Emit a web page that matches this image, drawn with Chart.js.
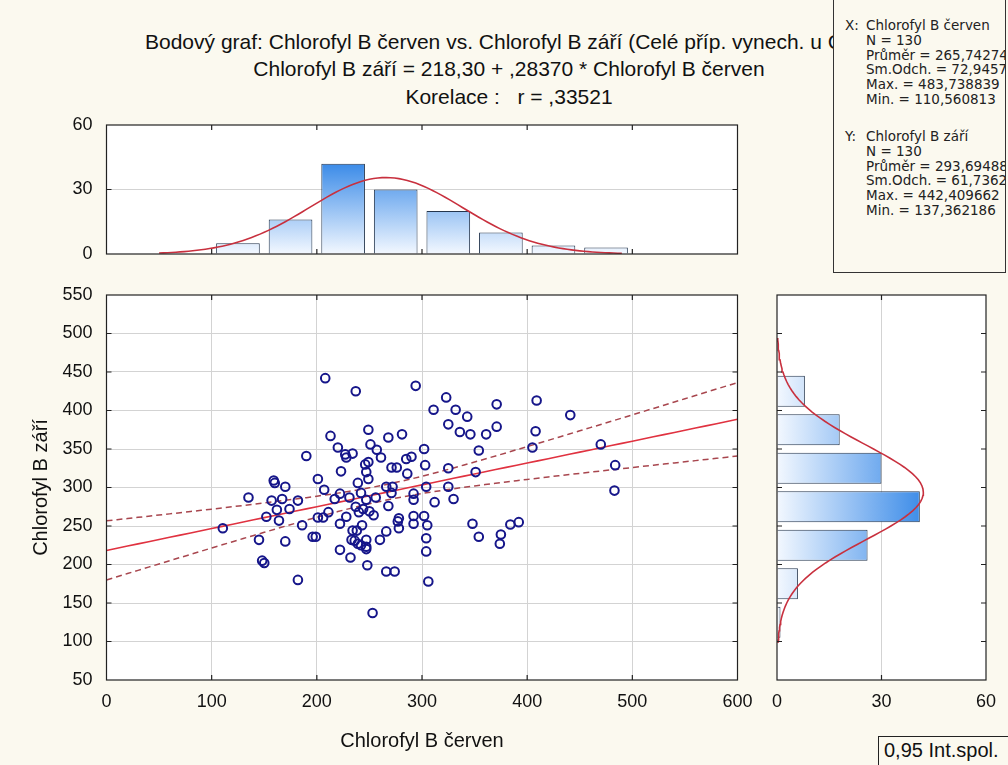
<!DOCTYPE html>
<html>
<head>
<meta charset="utf-8">
<script src="https://cdn.jsdelivr.net/npm/chart.js@4.4.1/dist/chart.umd.min.js"></script>
<style>
  html, body { margin: 0; padding: 0; }
  body { width: 1008px; height: 765px; position: relative; overflow: hidden; background: #fbf9ef;
         font-family: "Liberation Sans", Arial, sans-serif; color: #111; }
  .wrap { position: absolute; }
  .tline { position: absolute; font-size: 21px; line-height: 26px; white-space: nowrap; }
  .center { left: 0; width: 1018px; text-align: center; }
  #stats { position: absolute; left: 833px; top: -1px; width: 171px; height: 272px; border: 1px solid #333;
           background: #fbf9ef; font-family: "DejaVu Sans", sans-serif; font-size: 13.5px; line-height: 14px;
           color: #222; overflow: hidden; z-index: 5; }
  #stats div { position: absolute; white-space: nowrap; }
  #ci { position: absolute; left: 878px; top: 736px; width: 140px; height: 32px; border: 1px solid #222;
        font-size: 20px; line-height: 27px; padding-left: 5px; box-sizing: border-box; background: #fbf9ef; }
</style>
</head>
<body>
<div class="tline" style="left:145px; top:29px;">Bodový graf: Chlorofyl B červen vs. Chlorofyl B září (Celé příp. vynech. u ChD)</div>
<div class="tline center" style="top:56px;">Chlorofyl B září = 218,30 + ,28370 * Chlorofyl B červen</div>
<div class="tline center" style="top:84px;">Korelace :&nbsp;&nbsp; r = ,33521</div>

<div id="stats"></div>

<div class="wrap" style="left:0; top:105px; width:760px; height:160px;"><canvas id="topHist"></canvas></div>
<div class="wrap" style="left:0; top:275px; width:760px; height:490px;"><canvas id="scatter"></canvas></div>
<div class="wrap" style="left:760px; top:275px; width:248px; height:490px;"><canvas id="rightHist"></canvas></div>

<div id="ci">0,95 Int.spol.</div>

<script>
// body grafu: Chlorofyl B červen (X) a Chlorofyl B září (Y), 130 případů
const chlorofylCerven = [
  190, 159, 160, 170, 135, 157, 167, 182, 162, 174, 152, 164, 186, 110.6, 145, 170, 148, 150, 182,
  208, 237, 294, 323, 371, 311, 332, 343, 325, 336, 346, 361, 371, 249, 213, 268, 281, 220, 227, 234,
  228, 251, 257, 261, 249, 246, 223, 247, 249, 271, 276, 285, 290, 286, 302, 303, 325, 354, 351, 201, 239,
  207, 266, 272, 304, 325, 242, 222, 217, 231, 247, 256, 271, 292, 292, 312, 330, 237, 244, 268, 211,
  201, 206, 228, 240, 250, 254, 222, 243, 278, 277, 278, 292, 292, 302, 305, 348, 354, 375, 374, 196,
  199, 234, 238, 233, 236, 239, 247, 247, 247, 242, 222, 232, 260, 266, 304, 304, 248, 266, 274, 306, 253,
  409, 441, 408, 405, 470, 483.7, 483, 392, 384
];
const chlorofylZari = [
  341, 309, 306, 301, 287, 283, 285, 283, 271, 272, 262, 257, 251, 247, 232, 230, 205, 202, 180,
  442, 425, 432, 417, 408, 401, 401, 392, 382, 372, 369, 369, 379, 375, 367, 365, 369, 352, 343, 344,
  339, 356, 349, 339, 333, 330, 321, 320, 311, 326, 326, 337, 340, 318, 350, 329, 325, 348, 320, 311, 306,
  297, 301, 301, 301, 301, 293, 292, 285, 287, 284, 287, 293, 292, 284, 281, 285, 275, 272, 276, 268,
  261, 261, 262, 268, 269, 264, 253, 251, 260, 256, 247, 263, 253, 263, 251, 253, 236, 239, 227, 236,
  236, 244, 244, 232, 231, 227, 232, 223, 220, 225, 219, 209, 232, 243, 234, 217, 199, 191, 191, 178, 137,
  413, 394, 373, 352, 356, 329, 296, 255, 252
];

// histogramy (středy tříd po 50 a četnosti)
const cervenBinMid = [125, 175, 225, 275, 325, 375, 425, 475];
const cervenCounts = [5, 16, 42, 30, 20, 10, 4, 3];
const zariBinMid = [125, 175, 225, 275, 325, 375, 425];
const zariCounts = [1, 6, 26, 41, 30, 18, 8];
const binWidth = 50;

// popisné statistiky: [průměr, sm.odch., max, min]
const statN = 130;
const statCerven = [265.74274, 72.9457, 483.738839, 110.560813];
const statZari = [293.69488, 61.7362, 442.409662, 137.362186];
const regIntercept = 218.30;
const regSlope = 0.28370;
const corrR = 0.33521;

// rozsahy os
const scatterX = [0, 600];
const scatterY = [50, 550];
const histCount = [0, 60];

// panel se statistikami
const statsLines = [
  ['X:', 'Chlorofyl B červen', 25], ['', 'N = 130', 39.8], ['', 'Průměr = 265,74274', 54.6],
  ['', 'Sm.Odch. = 72,9457', 69.4], ['', 'Max. = 483,738839', 84.2], ['', 'Min. = 110,560813', 99],
  ['Y:', 'Chlorofyl B září', 136], ['', 'N = 130', 150.8], ['', 'Průměr = 293,69488', 165.6],
  ['', 'Sm.Odch. = 61,7362', 180.4], ['', 'Max. = 442,409662', 195.2], ['', 'Min. = 137,362186', 210]
];
const statsBox = document.getElementById('stats');
statsLines.forEach(([tag, text, y]) => {
  if (tag) {
    const t = document.createElement('div');
    t.textContent = tag; t.style.left = '11px'; t.style.top = (y - 7) + 'px';
    statsBox.appendChild(t);
  }
  const d = document.createElement('div');
  d.textContent = text; d.style.left = '32px'; d.style.top = (y - 7) + 'px';
  statsBox.appendChild(d);
});

Chart.defaults.font.family = '"Liberation Sans", Arial, sans-serif';
Chart.defaults.color = '#111';
Chart.defaults.animation = false;
Chart.defaults.events = [];
Chart.defaults.plugins.legend.display = false;
Chart.defaults.plugins.tooltip.enabled = false;

const curveColor = '#c8303e';
const barEdge = '#24364e';
const noLine = 'rgba(0,0,0,0)';

// normální křivka přes histogram
function normalCurve(stat, from, to) {
  const [mean, sd] = stat;
  const k = statN * binWidth / (sd * Math.sqrt(2 * Math.PI));
  const pts = [];
  for (let v = from; v <= to; v += 4) {
    pts.push([v, k * Math.exp(-((v - mean) ** 2) / (2 * sd * sd))]);
  }
  return pts;
}

// regresní přímka a 95% pás spolehlivosti
const tCrit = 1.9787;
const sxx = (statN - 1) * statCerven[1] ** 2;
const seResid = statZari[1] * Math.sqrt((1 - corrR * corrR) * (statN - 1) / (statN - 2));
function regLine(sign) {
  const pts = [];
  for (let x = scatterX[0]; x <= scatterX[1]; x += 10) {
    const half = tCrit * seResid * Math.sqrt(1 / statN + (x - statCerven[0]) ** 2 / sxx);
    pts.push({ x: x, y: regIntercept + regSlope * x + sign * half });
  }
  return pts;
}

function barGradient(context, horizontal) {
  const chart = context.chart;
  if (!chart.chartArea) return '#8fbff3';
  const s = horizontal ? chart.scales.x : chart.scales.y;
  const p0 = s.getPixelForValue(0), p1 = s.getPixelForValue(42);
  const g = horizontal ? chart.ctx.createLinearGradient(p0, 0, p1, 0)
                       : chart.ctx.createLinearGradient(0, p0, 0, p1);
  g.addColorStop(0, '#f3f8ff');
  g.addColorStop(1, '#3b8be8');
  return g;
}

// bílá plocha grafu, rámeček a vnitřní značky
const plotFrame = {
  id: 'plotFrame',
  beforeDraw(chart) {
    const { ctx, chartArea: a } = chart;
    ctx.save();
    ctx.fillStyle = '#fff';
    ctx.fillRect(a.left, a.top, a.right - a.left, a.bottom - a.top);
    ctx.restore();
  },
  afterDraw(chart) {
    const { ctx, chartArea: a } = chart;
    const xs = chart.scales.x, ys = chart.scales.y;
    ctx.save();
    ctx.strokeStyle = '#222';
    ctx.lineWidth = 1.2;
    ctx.strokeRect(a.left, a.top, a.right - a.left, a.bottom - a.top);
    ctx.beginPath();
    (xs.ticks || []).forEach(t => {
      const p = xs.getPixelForValue(t.value);
      if (p > a.left + 2 && p < a.right - 2) {
        ctx.moveTo(p, a.top); ctx.lineTo(p, a.top + 5);
        ctx.moveTo(p, a.bottom); ctx.lineTo(p, a.bottom - 5);
      }
    });
    (ys.ticks || []).forEach(t => {
      const p = ys.getPixelForValue(t.value);
      if (p > a.top + 2 && p < a.bottom - 2) {
        ctx.moveTo(a.left, p); ctx.lineTo(a.left + 5, p);
        ctx.moveTo(a.right, p); ctx.lineTo(a.right - 5, p);
      }
    });
    ctx.stroke();
    ctx.restore();
  }
};

function fixWidth(w) { return s => { s.width = w; s.paddingTop = 0; s.paddingBottom = 0; }; }
function fixHeight(h) { return s => { s.height = h; s.paddingLeft = 0; s.paddingRight = 0; }; }
const tickFont = { size: 18 };

// horní histogram (X)
new Chart(document.getElementById('topHist'), {
  type: 'bar',
  data: {
    datasets: [
      {
        type: 'line', order: 0,
        data: normalCurve(statCerven, 50, 490).map(([v, f]) => ({ x: v, y: f })),
        borderColor: curveColor, borderWidth: 1.6, pointRadius: 0
      },
      {
        order: 1,
        data: cervenBinMid.map((m, i) => ({ x: m, y: cervenCounts[i] })),
        backgroundColor: c => barGradient(c, false),
        borderColor: barEdge, borderWidth: 1, barPercentage: 0.83, categoryPercentage: 1
      }
    ]
  },
  options: {
    responsive: true, maintainAspectRatio: false,
    layout: { padding: { top: 20, bottom: 11, left: 0, right: 22.5 } },
    scales: {
      x: { type: 'linear', min: scatterX[0], max: scatterX[1], offset: false, display: false,
           ticks: { stepSize: 100 }, grid: { offset: false } },
      y: { min: histCount[0], max: histCount[1],
           ticks: { stepSize: 30, padding: 14, font: tickFont },
           grid: { drawTicks: false, color: c => c.tick && c.tick.value === 30 ? '#d3d3d3' : noLine },
           border: { display: false }, afterFit: fixWidth(106.5) }
    }
  },
  plugins: [plotFrame]
});

// bodový graf
new Chart(document.getElementById('scatter'), {
  type: 'scatter',
  data: {
    datasets: [
      {
        data: chlorofylCerven.map((x, i) => ({ x: x, y: chlorofylZari[i] })),
        pointRadius: 4.3, pointBorderWidth: 2, borderColor: '#16168a',
        backgroundColor: 'rgba(255,255,255,0)'
      },
      {
        data: regLine(0), showLine: true, pointRadius: 0,
        borderColor: '#e03240', borderWidth: 1.6
      },
      {
        data: regLine(1), showLine: true, pointRadius: 0,
        borderColor: '#a8464e', borderWidth: 1.5, borderDash: [6, 4]
      },
      {
        data: regLine(-1), showLine: true, pointRadius: 0,
        borderColor: '#a8464e', borderWidth: 1.5, borderDash: [6, 4]
      }
    ]
  },
  options: {
    responsive: true, maintainAspectRatio: false,
    layout: { padding: { top: 20, bottom: 0, left: 0, right: 22.5 } },
    scales: {
      x: {
        min: scatterX[0], max: scatterX[1],
        ticks: { stepSize: 100, padding: 11, font: tickFont, maxRotation: 0 },
        grid: { drawTicks: false, color: c => c.tick && (c.tick.value === scatterX[0] || c.tick.value === scatterX[1]) ? noLine : '#d3d3d3' },
        border: { display: false },
        title: { display: true, text: 'Chlorofyl B červen', font: { size: 20 }, padding: { top: 0, bottom: 12 } },
        afterFit: fixHeight(85)
      },
      y: {
        min: scatterY[0], max: scatterY[1],
        ticks: { stepSize: 50, padding: 14, font: tickFont },
        grid: { drawTicks: false, color: c => c.tick && (c.tick.value === scatterY[0] || c.tick.value === scatterY[1]) ? noLine : '#d3d3d3' },
        border: { display: false },
        title: { display: true, text: 'Chlorofyl B září', font: { size: 20 }, padding: { top: 29, bottom: 0 } },
        afterFit: fixWidth(106.5)
      }
    }
  },
  plugins: [plotFrame]
});

// pravý histogram (Y)
new Chart(document.getElementById('rightHist'), {
  type: 'bar',
  data: {
    datasets: [
      {
        type: 'line', order: 0, indexAxis: 'y',
        data: normalCurve(statZari, 98, 496).map(([v, f]) => ({ x: f, y: v })),
        borderColor: curveColor, borderWidth: 1.6, pointRadius: 0
      },
      {
        order: 1,
        data: zariBinMid.map((m, i) => ({ x: zariCounts[i], y: m })),
        backgroundColor: c => barGradient(c, true),
        borderColor: barEdge, borderWidth: 1, barPercentage: 0.8, categoryPercentage: 1
      }
    ]
  },
  options: {
    indexAxis: 'y',
    responsive: true, maintainAspectRatio: false,
    layout: { padding: { top: 20, bottom: 0, left: 17, right: 22 } },
    scales: {
      x: { type: 'linear', min: histCount[0], max: histCount[1],
           ticks: { stepSize: 30, padding: 11, font: tickFont, maxRotation: 0 },
           grid: { drawTicks: false, color: c => c.tick && c.tick.value === 30 ? '#d3d3d3' : noLine },
           border: { display: false }, afterFit: fixHeight(85) },
      y: { type: 'linear', min: scatterY[0], max: scatterY[1], offset: false, display: false,
           ticks: { stepSize: 50 }, grid: { offset: false } }
    }
  },
  plugins: [plotFrame]
});
</script>
</body>
</html>
